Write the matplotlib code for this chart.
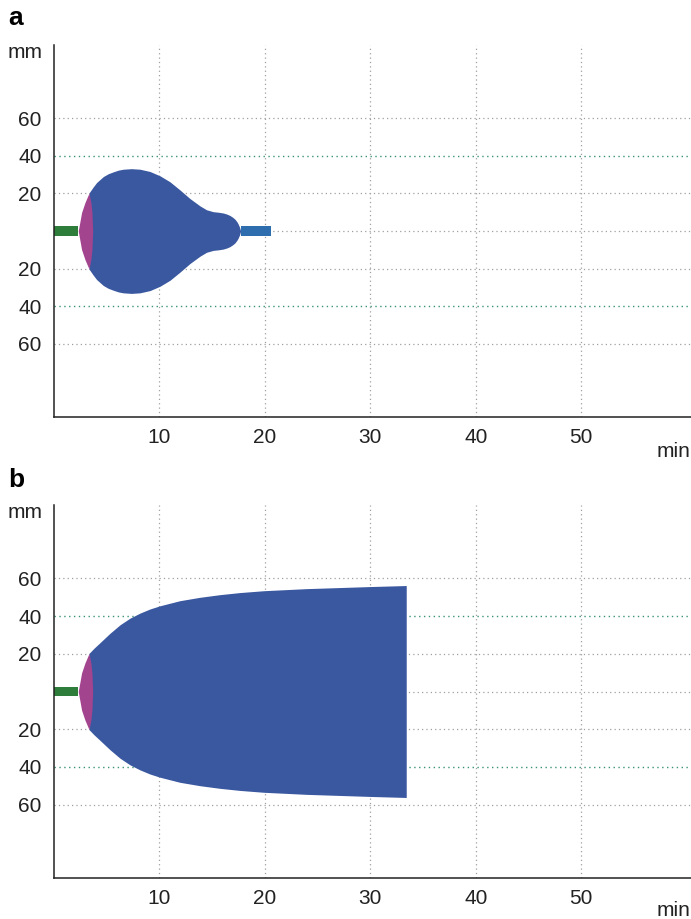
#Thromboelastography style tracings, two panels (a and b)

import matplotlib.pyplot as plt

plt.rcParams['font.family'] = ['Liberation Sans', 'DejaVu Sans']

#panel a trace: time (min) vs half amplitude (mm)
TraceA_Time = [3.32, 3.7, 4.04, 4.68, 5.15, 5.62, 6.1, 6.57, 7.35, 8.15, 9.1, 10.05, 11.0, 11.94, 12.89,
               13.84, 14.47, 15.1, 15.6, 16.05, 16.4, 16.68, 16.95, 17.16, 17.35, 17.47, 17.6, 17.7]
TraceA_Amp = [20.2, 23.3, 25.8, 29.0, 30.5, 31.5, 32.4, 32.9, 33.2, 32.9, 31.7, 29.4, 26.2, 21.9, 17.3,
              13.4, 11.3, 10.3, 10.0, 9.6, 9.0, 8.3, 7.3, 6.3, 4.9, 3.7, 2.0, 0.0]

#panel b trace
TraceB_Time = [3.32, 3.8, 4.36, 5.31, 6.26, 7.2, 8.15, 9.1, 10.05, 11.94, 13.84, 15.73,
               17.6, 19.9, 23.95, 29.95, 33.4]
TraceB_Amp = [20.2, 23.0, 25.9, 30.9, 35.4, 38.9, 41.6, 43.8, 45.5, 48.2, 50.0, 51.4,
              52.5, 53.5, 54.6, 55.7, 56.25]

#reaction time (green), clot kinetics lens (magenta), lysis tail (blue, panel a)
R_Time = 2.3
Lens_Amp = [0.0, 9.9, 15.2, 20.2]
Lens_Left = [2.3, 2.62, 2.94, 3.32]
Lens_Right = [3.67, 3.6, 3.5, 3.32]
Tail_Start = 17.7
Tail_End = 20.6
Bar_Half = 2.5

YTicks = [60, 40, 20, -20, -40, -60]
YTickLabels = ["60", "40", "20", "20", "40", "60"]
XTicks = [10, 20, 30, 40, 50]
XTickLabels = ["10", "20", "30", "40", "50"]

MainBlue = "#3A58A0"
Magenta = "#A3448F"
Green = "#2E7D3A"
TailBlue = "#2E6EAE"
GridGreen = "#3A9474"
GridGray = "#A0A0A0"


def SetupAxes(ax):
	ax.set_xlim(0, 60.4)
	ax.set_ylim(-99, 99)
	for s in ["top", "right"]:
		ax.spines[s].set_visible(False)
	for s in ["left", "bottom"]:
		ax.spines[s].set_color("#222222")
		ax.spines[s].set_linewidth(1.1)
	ax.set_yticks(YTicks)
	ax.set_yticklabels(YTickLabels)
	ax.set_xticks(XTicks)
	ax.set_xticklabels(XTickLabels)
	ax.tick_params(axis="both", length=0, labelsize=15, colors="#222222")
	ax.tick_params(axis="y", pad=9)
	ax.tick_params(axis="x", pad=8)
	for x in XTicks:
		ax.axvline(x, color=GridGray, ls=(0, (1, 2.5)), lw=0.9, zorder=0)
	for y in [60, 20, 0, -20, -60]:
		ax.axhline(y, color=GridGray, ls=(0, (1, 2.5)), lw=0.9, zorder=0)
	for y in [40, -40]:
		ax.axhline(y, color=GridGreen, ls=(0, (1, 2.5)), lw=1.0, zorder=0)


def DrawLensAndR(ax):
	ax.fill_between([0, R_Time], -Bar_Half, Bar_Half, color=Green, lw=0, zorder=2)
	ys = [-a for a in Lens_Amp[::-1]] + Lens_Amp[1:]
	left = Lens_Left[::-1] + Lens_Left[1:]
	right = Lens_Right[::-1] + Lens_Right[1:]
	ax.fill_betweenx(ys, left, right, color=Magenta, lw=0, zorder=4)


def DrawTrace(ax, Time, Amp):
	ax.fill_between(Time, [-a for a in Amp], Amp, color=MainBlue, lw=0, zorder=3)


fig = plt.figure(figsize=(6.91, 9.19), dpi=100)
axA = fig.add_axes([0.0781, 0.5462, 0.9219, 0.4048])
axB = fig.add_axes([0.0781, 0.0446, 0.9219, 0.4059])

for ax in [axA, axB]:
	SetupAxes(ax)
	DrawLensAndR(ax)

DrawTrace(axA, TraceA_Time, TraceA_Amp)
axA.fill_between([Tail_Start, Tail_End], -Bar_Half, Bar_Half, color=TailBlue, lw=0, zorder=2)
DrawTrace(axB, TraceB_Time, TraceB_Amp)

fig.text(8 / 691, 1 - 18 / 919, "a", fontsize=19, fontweight="bold", va="center", ha="left")
fig.text(8 / 691, 1 - 480 / 919, "b", fontsize=19, fontweight="bold", va="center", ha="left")
fig.text(8 / 691, 1 - 52 / 919, "mm", fontsize=15, va="center", ha="left", color="#222222")
fig.text(8 / 691, 1 - 512 / 919, "mm", fontsize=15, va="center", ha="left", color="#222222")
fig.text(690 / 691, 1 - 452 / 919, "min", fontsize=15, va="center", ha="right", color="#222222")
fig.text(690 / 691, 1 - 911 / 919, "min", fontsize=15, va="center", ha="right", color="#222222")

plt.savefig("out.png", dpi=100)
